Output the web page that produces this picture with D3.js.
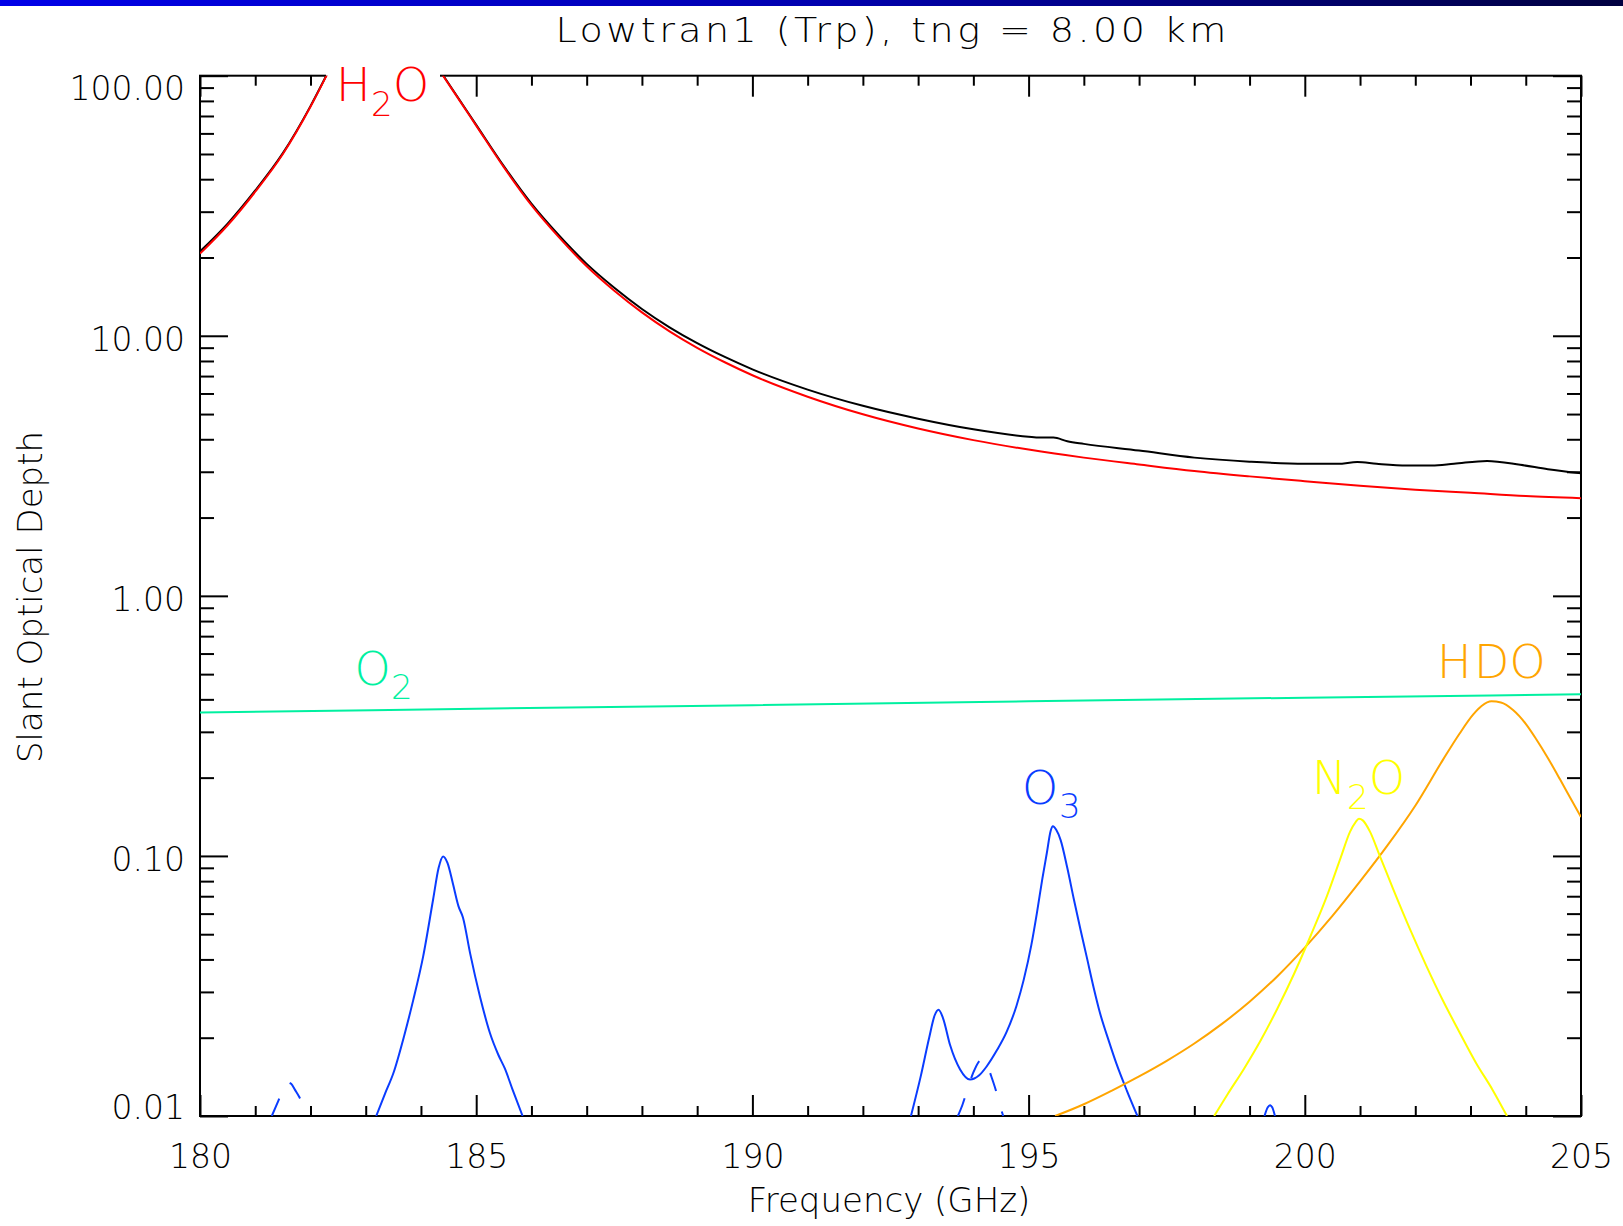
<!DOCTYPE html>
<html>
<head>
<meta charset="utf-8">
<script src="https://cdn.jsdelivr.net/npm/d3@7"></script>
<style>
  html, body { margin: 0; padding: 0; background: #fff; }
  svg text { font-family: "DejaVu Sans ExtraLight", "DejaVu Sans", "Liberation Sans", sans-serif; font-weight: 200; }
</style>
</head>
<body>
<svg id="chart" width="1623" height="1226"></svg>
<script>
// ---- data: slant optical depth vs frequency (GHz) ----
// total of all species
const totalFreq = [180, 180.5, 181, 181.5, 182, 182.3, 182.6, 183.0, 183.31, 183.6, 184.0, 184.2, 184.4, 184.7,
  185, 185.5, 186, 186.5, 187, 187.5, 188, 188.5, 189, 189.5, 190, 191, 192, 193, 194, 195, 195.2, 195.45,
  195.7, 196, 197, 198, 199, 200, 200.6, 200.95, 201.3, 201.85, 202.3, 202.7, 203.3, 203.9, 204.4, 205];
const totalDepth = [21.1, 27.0, 36.2, 50.4, 76.4, 101.4, 135.4, 300, 600, 300, 138.4, 116.4, 100.4, 80.6,
  64.7, 44.9, 32.2, 24.3, 18.9, 15.3, 12.68, 10.78, 9.37, 8.29, 7.43, 6.21, 5.38, 4.80, 4.37, 4.09, 4.06, 4.06,
  3.93, 3.84, 3.62, 3.40, 3.28, 3.22, 3.22, 3.27, 3.22, 3.17, 3.17, 3.22, 3.30, 3.19, 3.07, 2.96];

// water vapour
const h2oFreq = [180, 180.5, 181, 181.5, 182, 182.3, 182.6, 183.0, 183.31, 183.6, 184.0, 184.2, 184.4, 184.7,
  185, 185.5, 186, 186.5, 187, 187.5, 188, 188.5, 189, 189.5, 190, 191, 192, 193, 194, 195, 196, 197, 198,
  199, 200, 201, 202, 203, 204, 205];
const h2oDepth = [20.7, 26.6, 35.8, 50, 76, 101, 135, 300, 600, 300, 138, 116, 100, 80.2,
  64.3, 44.5, 31.8, 23.9, 18.5, 14.9, 12.3, 10.4, 8.99, 7.91, 7.05, 5.83, 4.99, 4.40, 3.97, 3.65, 3.40, 3.20, 3.02,
  2.88, 2.76, 2.65, 2.56, 2.49, 2.42, 2.375];

const o2Freq  = [180, 185, 190, 195, 200, 205];
const o2Depth = [0.356, 0.368, 0.380, 0.393, 0.406, 0.418];

// ozone main lines (null = below the plotted range)
const o3Freq = [183.19, 183.35, 183.50, 183.70, 183.86, 184.04, 184.22, 184.32, 184.40, 184.48, 184.58, 184.68,
  184.76, 184.89, 185.07, 185.25, 185.40, 185.52, 185.66, 185.84, 189.0,
  192.87, 193.05, 193.20, 193.30, 193.37, 193.45, 193.58, 193.76, 193.94, 194.10, 194.24, 194.42, 194.60,
  194.78, 194.91, 195.05, 195.15, 195.25, 195.33, 195.40, 195.44, 195.50, 195.58, 195.70, 195.82, 195.94,
  196.05, 196.18, 196.29, 196.45, 196.59, 196.78, 196.97, 198.0,
  199.27, 199.33, 199.37, 199.41, 199.46];
const o3Depth = [0.0100, 0.0122, 0.0146, 0.0205, 0.0279, 0.0411, 0.068, 0.090, 0.0995, 0.094, 0.078, 0.064,
  0.058, 0.0422, 0.0287, 0.0208, 0.0172, 0.0152, 0.0126, 0.0100, null,
  0.0100, 0.0143, 0.0200, 0.0244, 0.0256, 0.0238, 0.0187, 0.0151, 0.0138, 0.0143, 0.0155, 0.0178, 0.0210,
  0.0265, 0.0333, 0.0455, 0.0603, 0.082, 0.1026, 0.125, 0.130, 0.126, 0.115, 0.090, 0.068, 0.052,
  0.0411, 0.031, 0.025, 0.0195, 0.0159, 0.0125, 0.0100, null,
  0.0100, 0.0108, 0.0110, 0.0108, 0.0100];

// weaker ozone lines, drawn dashed
const o3WeakFreq = [181.30, 181.40, 181.50, 181.58, 181.65, 181.72, 181.80, 181.88, 181.95, 188.0,
  193.72, 193.80, 193.90, 194.00, 194.10, 194.18, 194.25, 194.32, 194.40, 194.47, 194.54];
const o3WeakDepth = [0.0100, 0.0112, 0.0126, 0.0135, 0.0133, 0.0126, 0.0118, 0.0108, 0.0100, null,
  0.0100, 0.0110, 0.0128, 0.0147, 0.0162, 0.0166, 0.0157, 0.0143, 0.0127, 0.0112, 0.0100];

const n2oFreq = [198.36, 198.6, 198.9, 199.2, 199.5, 199.8, 200.1, 200.4, 200.65, 200.82, 200.92, 200.98,
  201.05, 201.18, 201.35, 201.6, 201.9, 202.2, 202.5, 202.8, 203.1, 203.4, 203.66];
const n2oDepth = [0.0100, 0.0121, 0.0152, 0.0195, 0.0258, 0.0350, 0.0490, 0.0700, 0.0985, 0.124, 0.135, 0.139,
  0.137, 0.124, 0.101, 0.0745, 0.0525, 0.0378, 0.0278, 0.0210, 0.0160, 0.0126, 0.0100];

const hdoFreq = [195.48, 196.0, 196.5, 197.0, 197.5, 198.0, 198.5, 199.0, 199.5, 200.0, 200.5, 201.0, 201.5,
  202.0, 202.5, 202.8, 203.05, 203.2, 203.38, 203.55, 203.77, 204.0, 204.19, 204.4, 204.62, 204.8, 205.0];
const hdoDepth = [0.0100, 0.0111, 0.0125, 0.0142, 0.0163, 0.0190, 0.0226, 0.0275, 0.0344, 0.0444, 0.0588, 0.0798,
  0.110, 0.156, 0.234, 0.295, 0.350, 0.377, 0.393, 0.389, 0.364, 0.322, 0.281, 0.238, 0.197, 0.168, 0.141];

const xTickValues = [180, 185, 190, 195, 200, 205];
const yTickValues = [0.01, 0.1, 1, 10, 100];
const yTickLabels = ["0.01", "0.10", "1.00", "10.00", "100.00"];

const titleText = "Lowtran1 (Trp), tng = 8.00 km";
const xTitle = "Frequency (GHz)";
const yTitle = "Slant Optical Depth";

// ---- layout ----
const W = 1623, H = 1226;
const plot = { left: 200, right: 1581, top: 75.7, bottom: 1116 };

const svg = d3.select("#chart");

// header band
const defs = svg.append("defs");
const grad = defs.append("linearGradient").attr("id", "band").attr("x1", "0").attr("x2", "1");
grad.append("stop").attr("offset", "0").attr("stop-color", "#0000e8");
grad.append("stop").attr("offset", "0.5").attr("stop-color", "#0000b0");
grad.append("stop").attr("offset", "1").attr("stop-color", "#000040");
svg.append("rect").attr("x", 0).attr("y", 0).attr("width", W).attr("height", 6).attr("fill", "url(#band)");

defs.append("clipPath").attr("id", "plotClip").append("rect")
  .attr("x", plot.left).attr("y", plot.top)
  .attr("width", plot.right - plot.left).attr("height", plot.bottom - plot.top);

const x = d3.scaleLinear().domain([180, 205]).range([plot.left, plot.right]);
const y = d3.scaleLog().domain([0.01, 100]).range([plot.bottom, plot.top]);

// ---- axes (ticks point inward on all four sides) ----
const xMinor = x.ticks(25).filter(v => !xTickValues.includes(v));
const yMinor = y.ticks().filter(v => !yTickValues.some(t => Math.abs(t - v) / t < 1e-9));

function styleAxis(g) {
  g.select(".domain").remove();
  g.selectAll("line").attr("stroke", "#000").attr("stroke-width", 2);
  g.selectAll("text").attr("fill", "#000").attr("font-size", 33);
}

// bottom
svg.append("g").attr("transform", `translate(0,${plot.bottom})`)
  .call(d3.axisBottom(x).tickValues(xTickValues).tickSize(-21).tickPadding(29).tickFormat(d3.format("d")))
  .call(styleAxis);
svg.append("g").attr("transform", `translate(0,${plot.bottom})`)
  .call(d3.axisBottom(x).tickValues(xMinor).tickSize(-10).tickFormat(""))
  .call(styleAxis);
// top
svg.append("g").attr("transform", `translate(0,${plot.top})`)
  .call(d3.axisTop(x).tickValues(xTickValues).tickSize(-21).tickFormat(""))
  .call(styleAxis);
svg.append("g").attr("transform", `translate(0,${plot.top})`)
  .call(d3.axisTop(x).tickValues(xMinor).tickSize(-10).tickFormat(""))
  .call(styleAxis);
// left
const yLabelShift = { 0.01: 2, 100: 24 };
svg.append("g").attr("transform", `translate(${plot.left},0)`)
  .call(d3.axisLeft(y).tickValues(yTickValues).tickSize(-28).tickPadding(15)
    .tickFormat((d, i) => yTickLabels[i]))
  .call(styleAxis)
  .call(g => g.selectAll("text").attr("dy", d => (yLabelShift[d] !== undefined ? yLabelShift[d] : 15) + "px"));
svg.append("g").attr("transform", `translate(${plot.left},0)`)
  .call(d3.axisLeft(y).tickValues(yMinor).tickSize(-14).tickFormat(""))
  .call(styleAxis);
// right
svg.append("g").attr("transform", `translate(${plot.right},0)`)
  .call(d3.axisRight(y).tickValues(yTickValues).tickSize(-28).tickFormat(""))
  .call(styleAxis);
svg.append("g").attr("transform", `translate(${plot.right},0)`)
  .call(d3.axisRight(y).tickValues(yMinor).tickSize(-14).tickFormat(""))
  .call(styleAxis);

// frame
svg.append("rect")
  .attr("x", plot.left).attr("y", plot.top)
  .attr("width", plot.right - plot.left).attr("height", plot.bottom - plot.top)
  .attr("fill", "none").attr("stroke", "#000").attr("stroke-width", 2);

// white backing behind the water-vapour label (hides the top frame there)
svg.append("rect").attr("x", 326).attr("y", 64).attr("width", 114).attr("height", 24).attr("fill", "#fff");

// ---- curves ----
const curves = svg.append("g").attr("clip-path", "url(#plotClip)");

const line = d3.line()
  .x(d => x(d.f)).y(d => y(d.v))
  .curve(d3.curveMonotoneX);

// split a series into runs of defined values
function segments(fs, vs) {
  const out = []; let cur = [];
  fs.forEach((f, i) => {
    const v = vs[i];
    if (v == null) { if (cur.length) out.push(cur); cur = []; } else cur.push({ f, v });
  });
  if (cur.length) out.push(cur);
  return out;
}

function drawSeries(fs, vs, color, dash) {
  segments(fs, vs).forEach(seg => {
    curves.append("path").datum(seg)
      .attr("d", line)
      .attr("fill", "none")
      .attr("stroke", color)
      .attr("stroke-width", 2)
      .attr("stroke-linejoin", "round")
      .attr("stroke-dasharray", dash || null);
  });
}

const colors = { total: "#000000", h2o: "#ff0000", o2: "#00f0a0", o3: "#0a3cff", n2o: "#ffff00", hdo: "#ffa500" };

drawSeries(totalFreq, totalDepth, colors.total);
drawSeries(h2oFreq, h2oDepth, colors.h2o);
drawSeries(o2Freq, o2Depth, colors.o2);
drawSeries(o3WeakFreq, o3WeakDepth, colors.o3, "19,21");
drawSeries(o3Freq, o3Depth, colors.o3);
drawSeries(hdoFreq, hdoDepth, colors.hdo);
drawSeries(n2oFreq, n2oDepth, colors.n2o);

// ---- species labels (letters and subscripts placed one by one) ----
function chemLabel(parts, color) {
  const g = svg.append("g").attr("fill", color);
  parts.forEach(p => {
    g.append("text").attr("x", p.x).attr("y", p.y)
      .attr("font-size", p.sub ? 34 : 46).attr("font-weight", p.sub ? 400 : 200).text(p.s);
  });
}
chemLabel([{ s: "H", x: 336, y: 101 }, { s: "2", x: 371, y: 116, sub: true }, { s: "O", x: 393, y: 101 }], colors.h2o);
chemLabel([{ s: "O", x: 354.5, y: 685 }, { s: "2", x: 391, y: 699, sub: true }], colors.o2);
chemLabel([{ s: "O", x: 1022, y: 804 }, { s: "3", x: 1059, y: 818, sub: true }], colors.o3);
chemLabel([{ s: "N", x: 1312, y: 794 }, { s: "2", x: 1347, y: 809, sub: true }, { s: "O", x: 1369, y: 794 }], colors.n2o);
chemLabel([{ s: "H", x: 1437, y: 678 }, { s: "D", x: 1474, y: 678 }, { s: "O", x: 1509.5, y: 678 }], colors.hdo);

// ---- titles ----
svg.append("text").attr("transform", "translate(891,42) scale(1.12,1)").attr("text-anchor", "middle")
  .attr("font-size", 34).attr("fill", "#000")
  .attr("textLength", 599).attr("lengthAdjust", "spacing")
  .text(titleText);
svg.append("text").attr("x", 889).attr("y", 1212).attr("text-anchor", "middle")
  .attr("font-size", 34).attr("fill", "#000").text(xTitle);
svg.append("text").attr("transform", "translate(42,597) rotate(-90)").attr("text-anchor", "middle")
  .attr("font-size", 34).attr("fill", "#000").text(yTitle);
</script>
</body>
</html>
